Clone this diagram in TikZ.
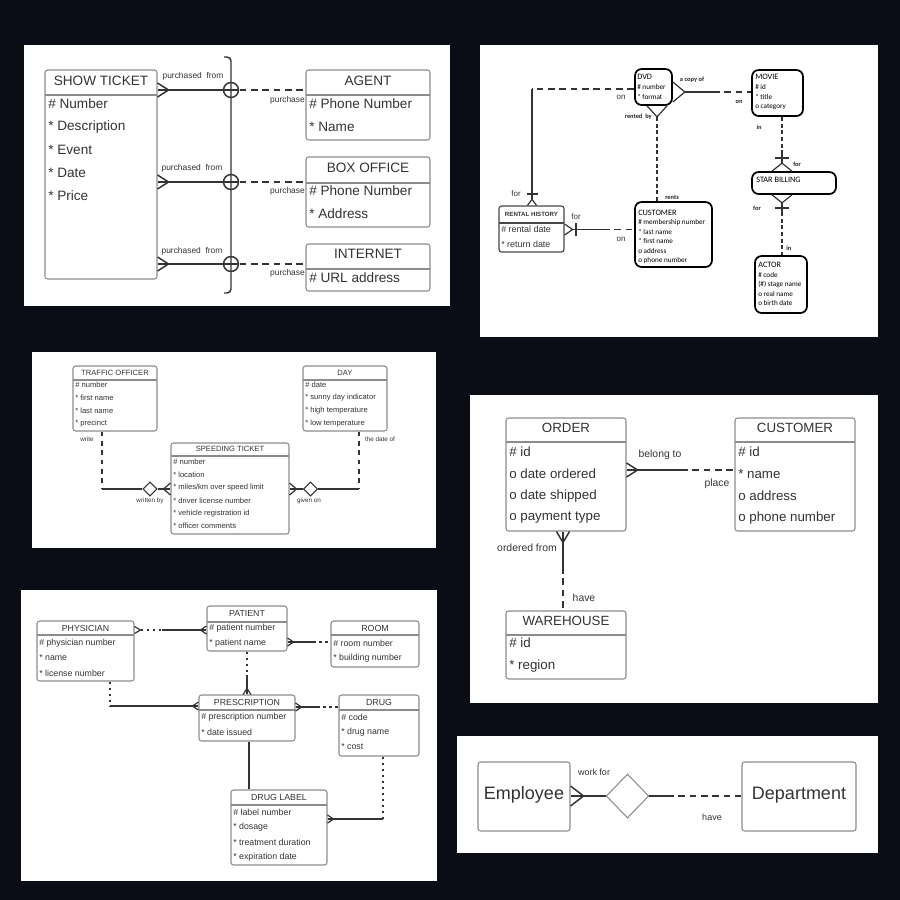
\documentclass[tikz,border=0pt]{standalone}
\usepackage{fontspec}
\setmainfont{Liberation Sans}
\newfontfamily\calfont{Carlito}
\usetikzlibrary{fit,calc,shapes.geometric}
\definecolor{bg}{HTML}{0A0C16}
\definecolor{ink}{HTML}{333333}
\definecolor{edgec}{HTML}{8C8C8C}
\tikzset{
 panel/.style={fill=white,draw=none},
 ebox/.style={draw=edgec,line width=0.8pt,rounded corners=2pt,inner sep=0pt},
 bbox/.style={draw=black,line width=1.3pt,rounded corners=5pt,inner sep=0pt},
 hline/.style={draw=edgec,line width=0.8pt},
 conn/.style={draw=ink,line width=0.9pt},
 dsh/.style={conn,dash pattern=on 5pt off 3.5pt},
 dshs/.style={conn,dash pattern=on 3pt off 2pt},
 dot/.style={conn,dash pattern=on 2pt off 2.5pt},
 txt/.style={inner sep=0pt,text=ink},
 t1/.style={txt,font=\fontsize{10.2}{12}\selectfont},
 l1/.style={txt,font=\fontsize{6.3}{7}\selectfont},
 t2/.style={inner sep=0pt,text=black,font=\calfont\fontsize{5.4}{6}\selectfont},
 t2h/.style={inner sep=0pt,text=black,font=\calfont\fontsize{6.2}{7}\selectfont},
 l2b/.style={inner sep=0pt,text=black!85,font=\calfont\bfseries\fontsize{4.8}{5}\selectfont},
 l2/.style={txt,font=\fontsize{6}{7}\selectfont},
 t3/.style={txt,font=\fontsize{5.7}{6.5}\selectfont},
 l3/.style={txt,font=\fontsize{4.75}{5.5}\selectfont},
 t4/.style={txt,font=\fontsize{10}{12}\selectfont},
 l4/.style={txt,font=\fontsize{7.8}{9}\selectfont},
 t5/.style={txt,font=\fontsize{6.6}{8}\selectfont},
 t6/.style={txt,font=\fontsize{13.5}{16}\selectfont},
 l6/.style={txt,font=\fontsize{6.75}{8}\selectfont},
 rel/.style={diamond,draw=ink,line width=0.8pt,inner sep=0pt},
}
\newcommand\attrlist[6]{%
 \foreach \itm [count=\i] in {#6} \node[#5,anchor=west] (#1-\i) at (#2,{#3+(\i-1)*#4}) {\itm};}
\newcommand\crowft[6]{\draw[#1] ($(#2)+(#5,#6)$) -- ($(#2)+(#3,#4)$) -- ($(#2)-(#5,#6)$);}
\begin{document}
\begin{tikzpicture}[x=0.75pt,y=-0.75pt]
\fill[bg] (0,0) rectangle (900,900);
\useasboundingbox (0,0) rectangle (900,900);

% ===== Panel 1 =====
\fill[panel] (24,45) rectangle (450,306);
\node[ebox,fit={(45,70)(157,279)}] (st) {};
\draw[hline] (45,95) -- (157,95);
\node[t1] (stT) at (101,81) {SHOW TICKET};
\attrlist{st}{48}{104}{23}{t1}{\# Number,* Description,* Event,* Date,* Price}
\node[ebox,fit={(306,70)(430,140)}] (ag) {};
\draw[hline] (306,95) -- (430,95);
\node[t1] (agT) at (368,81) {AGENT};
\attrlist{ag}{309}{104}{23}{t1}{\# Phone Number,* Name}
\node[ebox,fit={(306,157)(430,227)}] (bo) {};
\draw[hline] (306,183) -- (430,183);
\node[t1] (boT) at (368,168) {BOX OFFICE};
\attrlist{bo}{309}{191}{23}{t1}{\# Phone Number,* Address}
\node[ebox,fit={(306,244)(430,291)}] (in) {};
\draw[hline] (306,269) -- (430,269);
\node[t1] (inT) at (368,254) {INTERNET};
\attrlist{in}{309}{278}{23}{t1}{\# URL address}
\draw[conn,line width=1.1pt,rounded corners=3pt] (224,57) -- (231,57) -- (231,293) -- (224,293);
\foreach \yy/\tg [count=\k] in {90/ag,182/bo,264/in}{
 \coordinate (j\k) at (231,\yy);
 \coordinate (b\k) at (st.east|-j\k);
 \draw[conn,line width=1.1pt] (b\k) -- ([xshift=5.6pt]j\k);
 \draw[conn,line width=1.1pt] (j\k) circle[radius=5.6pt];
 \crowft{conn,line width=1.1pt}{b\k}{11}{0}{0}{7}
 \draw[dsh,line width=1.1pt] ([xshift=6.5pt]j\k) -- (\tg.west|-j\k);
}
\node[l1] (pf1) at (193,76) {purchased\ \ from};
\node[l1] (pf2) at (192,168) {purchased\ \ from};
\node[l1] (pf3) at (192,251) {purchased\ \ from};
\node[l1,anchor=east] (pu1) at (305,100) {purchase};
\node[l1,anchor=east] (pu2) at (305,191) {purchase};
\node[l1,anchor=east] (pu3) at (305,273) {purchase};

% ===== Panel 2 =====
\fill[panel] (480,45) rectangle (878,337);
\node[bbox,fit={(635,69)(672,105)}] (dvd) {};
\node[t2h,anchor=west] (dvdT) at (637,77) {DVD};
\attrlist{dvd}{637}{87}{10}{t2}{\# number,* format}
\node[bbox,fit={(752,70)(803,116)}] (mov) {};
\node[t2h,anchor=west] (movT) at (755,77) {MOVIE};
\attrlist{mov}{755}{87}{9.7}{t2}{\# id,* title,o category}
\node[bbox,fit={(752,172)(836,194)}] (sb) {};
\node[t2h,anchor=west] (sbT) at (756,180) {STAR BILLING};
\node[bbox,fit={(755,256)(807,313)}] (act) {};
\node[t2h,anchor=west] (actT) at (758,265) {ACTOR};
\attrlist{act}{758}{275}{9.5}{t2}{\# code,{(\#) stage name},o real name,o birth date}
\node[bbox,fit={(635,202)(712,267)}] (cu2) {};
\node[t2h,anchor=west] (cu2T) at (638,213) {CUSTOMER};
\attrlist{cu2}{638}{222.5}{9.4}{t2}{\# membership number,* last name,* first name,o address,o phone number}
\node[draw=ink!90,line width=0.9pt,rounded corners=2pt,inner sep=0pt,fit={(499,206)(564,252)}] (rh) {};
\draw[draw=ink!90,line width=0.9pt] (499,223) -- (564,223);
\node[txt,font=\bfseries\fontsize{4.6}{5}\selectfont] (rhT) at (531.5,214) {RENTAL HISTORY};
\attrlist{rh}{501}{229.5}{14.5}{txt,font=\fontsize{6.7}{8}\selectfont}{\# rental date,* return date}
% DVD - MOVIE
\coordinate (a1) at (dvd.east|-0,92);
\crowft{conn}{a1}{12}{0}{0}{10}
\draw[conn] ($(a1)+(12,0)$) -- (713,92);
\draw[dsh] (713,92) -- (mov.west|-0,92);
% DVD - RENTAL HISTORY
\coordinate (a2) at (532,0|-rh.north);
\draw[dsh] (dvd.west|-0,89) -- (532,89);
\draw[conn] (532,89) -- ($(a2)+(0,-6)$);
\crowft{conn}{a2}{0}{-6}{4.5}{0}
\draw[conn] (526.5,194) -- (538,194);
% RENTAL HISTORY - CUSTOMER
\coordinate (a3) at (rh.east|-0,229.5);
\crowft{conn}{a3}{8}{0}{0}{5.5}
\draw[conn] (576,223) -- (576,236);
\draw[conn] ($(a3)+(8,0)$) -- (603,229.5);
\draw[dsh] (603,229.5) -- (cu2.west|-0,229.5);
% DVD - CUSTOMER
\coordinate (a4) at (657,0|-dvd.south);
\crowft{conn}{a4}{0}{11}{10}{0}
\draw[dshs] ($(a4)+(0,11)$) -- (657,0|-cu2.north);
% MOVIE - STAR BILLING
\coordinate (a5) at (782,0|-sb.north);
\draw[dshs] (782,0|-mov.south) -- (782,154);
\draw[conn] (782,154) -- ($(a5)+(0,-8)$);
\draw[conn] (775,158) -- (788.5,158);
\crowft{conn}{a5}{0}{-8}{10}{0}
% STAR BILLING - ACTOR
\coordinate (a6) at (782,0|-sb.south);
\crowft{conn}{a6}{0}{8}{10}{0}
\draw[conn] ($(a6)+(0,8)$) -- (782,212);
\draw[conn] (775,208) -- (788.5,208);
\draw[dshs] (782,212) -- (782,0|-act.north);
% labels
\node[l2b] (lp1) at (692,80) {a copy of};
\node[l2b] (lp2) at (739,102) {on};
\node[l2b,anchor=east] (lp3) at (652,117) {rented\ \ by};
\node[l2b,anchor=west] (lp4) at (665,197) {rents};
\node[l2b] (lp5) at (759,127) {in};
\node[l2b,anchor=west] (lp6) at (793,164) {for};
\node[l2b] (lp7) at (757,208) {for};
\node[l2b,anchor=west] (lp8) at (786,248) {in};
\node[l2] (lp9) at (621,97) {on};
\node[l2] (lp10) at (516,194) {for};
\node[l2] (lp11) at (576,217) {for};
\node[l2] (lp12) at (621,239) {on};

% ===== Panel 3 =====
\fill[panel] (32,352) rectangle (436,548);
\node[ebox,fit={(73,366)(157,431)}] (to) {};
\draw[hline] (73,380) -- (157,380);
\node[t3] (toT) at (115,372.5) {TRAFFIC OFFICER};
\attrlist{to}{75}{385}{13}{t3}{\# number,* first name,* last name,* precinct}
\node[ebox,fit={(303,366)(387,431)}] (day) {};
\draw[hline] (303,380) -- (387,380);
\node[t3] (dayT) at (345,372.5) {DAY};
\attrlist{day}{305}{385}{13}{t3}{\# date,* sunny day indicator,* high temperature,* low temperature}
\node[ebox,fit={(171,443)(289,534)}] (spt) {};
\draw[hline] (171,456) -- (289,456);
\node[t3] (sptT) at (230,449) {SPEEDING TICKET};
\attrlist{spt}{173}{462}{12.8}{t3}{\# number,* location,* miles/km over speed limit,* driver license number,* vehicle registration id,* officer comments}
\node[rel,minimum width=10.5pt,minimum height=10.5pt] (dm1) at (150,489) {};
\node[rel,minimum width=10.5pt,minimum height=10.5pt] (dm2) at (310.5,489) {};
\draw[dsh,dash pattern=on 3.5pt off 3.5pt] (to.south-|102,0) -- (102,489);
\draw[conn] (102,489) -- (dm1.west);
\coordinate (c1) at (spt.west|-dm1);
\draw[conn] (dm1.east) -- (c1);
\crowft{conn}{c1}{-7}{0}{0}{6}
\draw[dsh,dash pattern=on 3.5pt off 3.5pt] (day.south-|359,0) -- (359,489);
\draw[conn] (359,489) -- (dm2.east);
\coordinate (c2) at (spt.east|-dm2);
\draw[conn] (dm2.west) -- (c2);
\crowft{conn}{c2}{7}{0}{0}{6}
\node[l3] (wr) at (87,439) {write};
\node[l3] (tdo) at (380,439) {the date of};
\node[l3] (wb) at (150,501) {written by};
\node[l3] (gon) at (309,501) {given on};

% ===== Panel 4 =====
\fill[panel] (470,395) rectangle (878,703);
\node[ebox,fit={(506,418)(626,531)}] (ord) {};
\draw[hline] (506,442) -- (626,442);
\node[t4] (ordT) at (566,428) {ORDER};
\attrlist{ord}{509}{452}{22}{t4}{\# id,o date ordered,o date shipped,o payment type}
\node[ebox,fit={(735,418)(855,531)}] (cu4) {};
\draw[hline] (735,442) -- (855,442);
\node[t4] (cu4T) at (795,428) {CUSTOMER};
\attrlist{cu4}{738}{452}{22}{t4}{\# id,* name,o address,o phone number}
\node[ebox,fit={(506,611)(626,679)}] (wh) {};
\draw[hline] (506,635) -- (626,635);
\node[t4] (whT) at (566,621) {WAREHOUSE};
\attrlist{wh}{509}{643}{23}{t4}{\# id,* region}
\coordinate (e1) at (ord.east|-0,470);
\crowft{conn,line width=1.1pt}{e1}{11}{0}{0}{7}
\draw[conn,line width=1.1pt] (e1) -- (681,470);
\draw[dsh,line width=1.1pt] (681,470) -- (cu4.west|-0,470);
\coordinate (e2) at (563,0|-ord.south);
\crowft{conn,line width=1.1pt}{e2}{0}{11}{6.5}{0}
\draw[conn,line width=1.1pt] (e2) -- (563,567);
\draw[dsh,line width=1.1pt] (563,567) -- (563,0|-wh.north);
\node[l4] (bt) at (660,455) {belong to};
\node[l4] (pl) at (717,484) {place};
\node[l4] (of) at (527,548) {ordered from};
\node[l4] (hv) at (584,598) {have};

% ===== Panel 5 =====
\fill[panel] (21,590) rectangle (437,881);
\node[ebox,fit={(37,621)(134,681)}] (phy) {};
\draw[hline] (37,635) -- (134,635);
\node[t5] (phyT) at (85.5,628) {PHYSICIAN};
\attrlist{phy}{39}{643}{15}{t5}{\# physician number,* name,* license number}
\node[ebox,fit={(207,606)(287,651)}] (pat) {};
\draw[hline] (207,622) -- (287,622);
\node[t5] (patT) at (247,613) {PATIENT};
\attrlist{pat}{209}{628}{15}{t5}{\# patient number,* patient name}
\node[ebox,fit={(331,621)(419,667)}] (room) {};
\draw[hline] (331,635) -- (419,635);
\node[t5] (roomT) at (375,628) {ROOM};
\attrlist{room}{333}{643}{15}{t5}{\# room number,* building number}
\node[ebox,fit={(199,695)(295,741)}] (pre) {};
\draw[hline] (199,710) -- (295,710);
\node[t5] (preT) at (247,702) {PRESCRIPTION};
\attrlist{pre}{201}{717}{15}{t5}{\# prescription number,* date issued}
\node[ebox,fit={(339,695)(419,756)}] (drug) {};
\draw[hline] (339,710) -- (419,710);
\node[t5] (drugT) at (379,702) {DRUG};
\attrlist{drug}{341}{717}{15}{t5}{\# code,* drug name,* cost}
\node[ebox,fit={(231,790)(327,865)}] (dl) {};
\draw[hline] (231,805) -- (327,805);
\node[t5] (dlT) at (279,797) {DRUG LABEL};
\attrlist{dl}{233}{812}{15}{t5}{\# label number,* dosage,* treatment duration,* expiration date}
% physician - patient
\coordinate (f1) at (phy.east|-0,630);
\coordinate (f2) at (pat.west|-0,630);
\crowft{conn}{f1}{6}{0}{0}{3.5}
\draw[dot] ($(f1)+(6,0)$) -- (162,630);
\draw[conn] (162,630) -- (f2);
\crowft{conn}{f2}{-6}{0}{0}{4}
% patient - room
\coordinate (f3) at (pat.east|-0,642);
\crowft{conn}{f3}{6}{0}{0}{4}
\draw[conn] (f3) -- (313,642);
\draw[dot,dash pattern=on 2.5pt off 2pt] (313,642) -- (room.west|-0,642);
% patient - prescription
\coordinate (f4) at (247,0|-pre.north);
\draw[dot] (247,0|-pat.south) -- (247,675);
\draw[conn] (247,675) -- (f4);
\crowft{conn}{f4}{0}{-6}{4}{0}
% physician - prescription
\coordinate (f5) at (pre.west|-0,706);
\draw[dot] (110,0|-phy.south) -- (110,706);
\draw[conn] (110,706) -- (f5);
\crowft{conn}{f5}{-6}{0}{0}{4}
% prescription - drug
\coordinate (f6) at (pre.east|-0,707);
\crowft{conn}{f6}{6}{0}{0}{4}
\draw[conn] (f6) -- (317,707);
\draw[dot,dash pattern=on 2.5pt off 2pt] (317,707) -- (drug.west|-0,707);
% prescription - drug label
\draw[conn] (249,0|-pre.south) -- (249,0|-dl.north);
% drug - drug label
\coordinate (f7) at (dl.east|-0,819);
\draw[dot] (383,0|-drug.south) -- (383,819);
\draw[conn] (383,819) -- (f7);
\crowft{conn}{f7}{6}{0}{0}{4}

% ===== Panel 6 =====
\fill[panel] (457,736) rectangle (878,853);
\node[ebox,fit={(478,762)(570,831)}] (emp) {};
\node[t6] (empT) at (524,795) {Employee};
\node[ebox,fit={(742,762)(856,831)}] (dep) {};
\node[t6] (depT) at (799,795) {Department};
\node[diamond,draw=edgec,line width=0.8pt,inner sep=0pt,minimum width=32pt,minimum height=33pt] (wf) at (627.5,796) {};
\coordinate (g1) at (emp.east|-wf);
\crowft{conn,line width=1.1pt}{g1}{13}{0}{0}{10}
\draw[conn,line width=1.1pt] (g1) -- (wf.west);
\draw[conn,line width=1.1pt] (wf.east) -- (667,796);
\draw[dsh,line width=1.1pt] (667,796) -- (dep.west|-wf);
\node[l6] (wfl) at (594,772) {work for};
\node[l6] (hvl) at (712,817) {have};
\end{tikzpicture}
\end{document}
